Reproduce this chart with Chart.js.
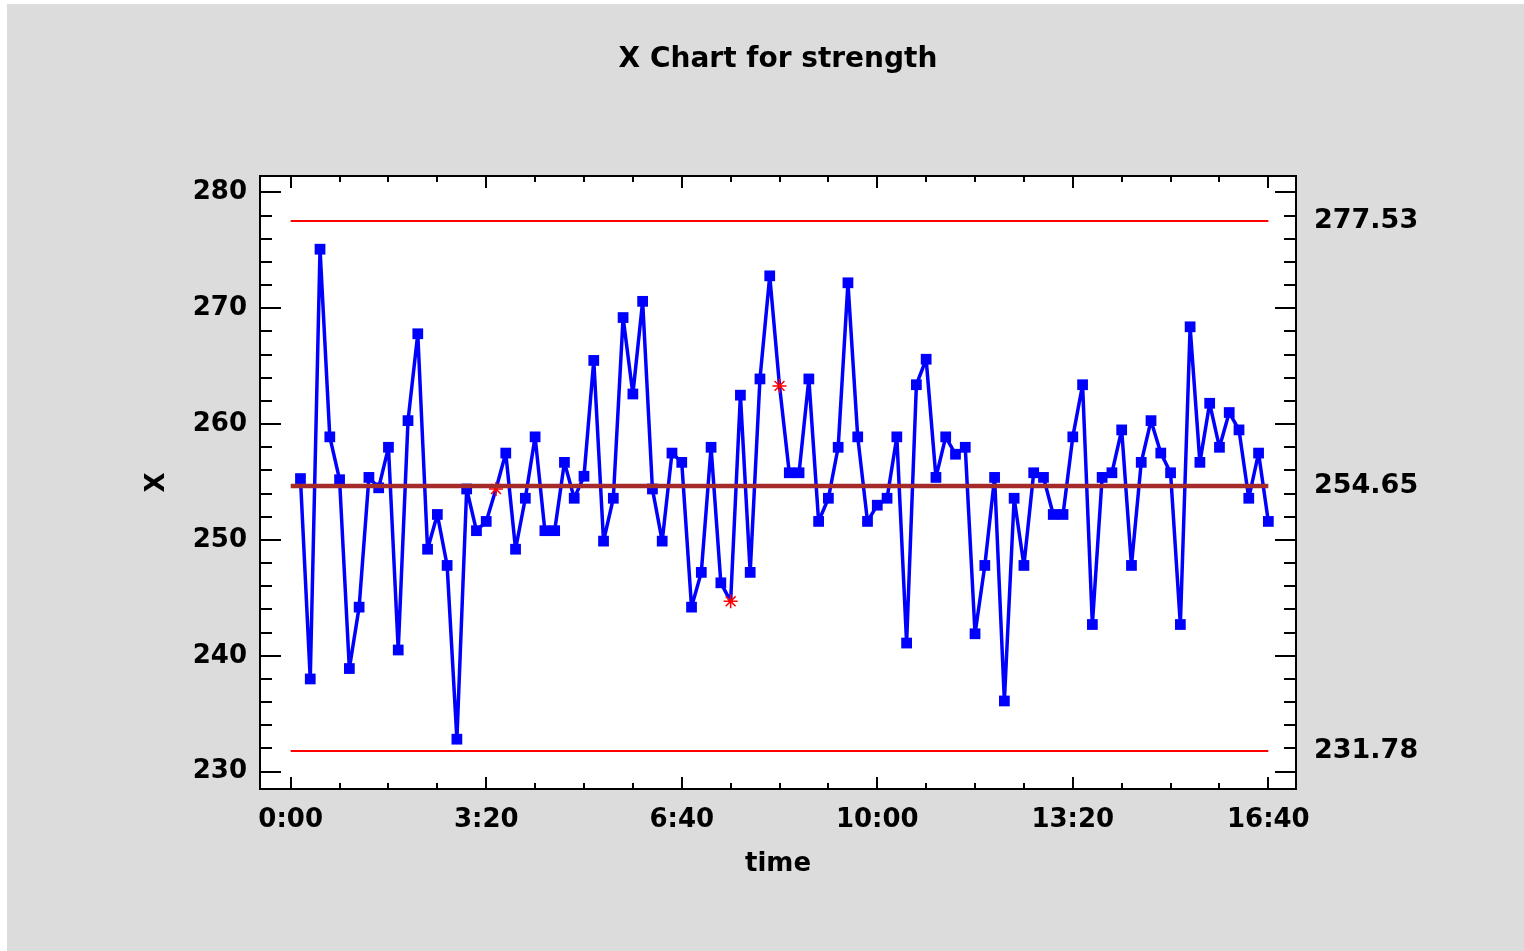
<!DOCTYPE html>
<html>
<head>
<meta charset="utf-8">
<title>X Chart for strength</title>
<script src="https://cdn.jsdelivr.net/npm/chart.js@4.4.1/dist/chart.umd.min.js"></script>
<style>
  html, body { margin: 0; padding: 0; background: #ffffff; }
  #frame { position: absolute; left: 7px; top: 4px; width: 1517px; height: 947px; background: #dcdcdc; }
  canvas { display: block; }
</style>
</head>
<body>
<div id="frame"><canvas id="xChart" width="1517" height="947"></canvas></div>
<script>
// X chart (individuals) for strength - one sample every 10 minutes

const sampleMinutes = [
  10, 20, 30, 40, 50, 60, 70, 80, 90, 100,
  110, 120, 130, 140, 150, 160, 170, 180, 190, 200,
  210, 220, 230, 240, 250, 260, 270, 280, 290, 300,
  310, 320, 330, 340, 350, 360, 370, 380, 390, 400,
  410, 420, 430, 440, 450, 460, 470, 480, 490, 500,
  510, 520, 530, 540, 550, 560, 570, 580, 590, 600,
  610, 620, 630, 640, 650, 660, 670, 680, 690, 700,
  710, 720, 730, 740, 750, 760, 770, 780, 790, 800,
  810, 820, 830, 840, 850, 860, 870, 880, 890, 900,
  910, 920, 930, 940, 950, 960, 970, 980, 990, 1000
];

const strength = [
  255.3, 238.0, 275.1, 258.9, 255.2, 238.9, 244.2, 255.4, 254.5, 258.0,
  240.5, 260.3, 267.8, 249.2, 252.2, 247.8, 232.8, 254.4, 250.8, 251.6,
  254.4, 257.5, 249.2, 253.6, 258.9, 250.8, 250.8, 256.7, 253.6, 255.5,
  265.5, 249.9, 253.6, 269.2, 262.6, 270.6, 254.4, 249.9, 257.5, 256.7,
  244.2, 247.2, 258.0, 246.3, 244.7, 262.5, 247.2, 263.9, 272.8, 263.3,
  255.8, 255.8, 263.9, 251.6, 253.6, 258.0, 272.2, 258.9, 251.6, 253.0,
  253.6, 258.9, 241.1, 263.4, 265.6, 255.4, 258.9, 257.4, 258.0, 241.9,
  247.8, 255.4, 236.1, 253.6, 247.8, 255.8, 255.4, 252.2, 252.2, 258.9,
  263.4, 242.7, 255.4, 255.8, 259.5, 247.8, 256.7, 260.3, 257.5, 255.8,
  242.7, 268.4, 256.7, 261.8, 258.0, 261.0, 259.5, 253.6, 257.5, 251.6
];

// samples drawn as a red asterisk instead of a square (1-based)
const flaggedSamples = [21, 45, 50];

// control limits
const ucl = 277.53;
const centerLine = 254.65;
const lcl = 231.78;
const limitSpan = [0, 1000];

const yTickValues = [230, 240, 250, 260, 270, 280];
const xTickMinutes = [0, 200, 400, 600, 800, 1000];
const limitTicks = [lcl, centerLine, ucl];

const FONT = "'DejaVu Sans', Verdana, sans-serif";

function formatClock(min) {
  const h = Math.floor(min / 60);
  const m = Math.round(min % 60);
  return h + ':' + String(m).padStart(2, '0');
}

const isFlagged = (i) => flaggedSamples.includes(i + 1);

// white plot area on the grey page
const plotBackground = {
  id: 'plotBackground',
  beforeDraw(chart) {
    const { ctx, chartArea: a } = chart;
    ctx.save();
    ctx.fillStyle = '#ffffff';
    ctx.fillRect(a.left, a.top, a.right - a.left, a.bottom - a.top);
    ctx.restore();
  }
};

// frame with inward tick marks on all four sides
const frameTicks = {
  id: 'frameTicks',
  afterDraw(chart) {
    const { ctx, chartArea: a, scales: { x, y } } = chart;
    ctx.save();
    ctx.strokeStyle = '#000000';
    ctx.lineWidth = 2;
    ctx.beginPath();
    for (let v = 230; v <= 280; v += 2) {
      const py = Math.round(y.getPixelForValue(v));
      const len = v % 10 === 0 ? 21 : 12;
      ctx.moveTo(a.left, py);
      ctx.lineTo(a.left + len, py);
      ctx.moveTo(a.right, py);
      ctx.lineTo(a.right - len, py);
    }
    for (let m = 0; m <= 1000; m += 50) {
      const px = Math.round(x.getPixelForValue(m));
      const len = m % 200 === 0 ? 12 : 6;
      ctx.moveTo(px, a.bottom);
      ctx.lineTo(px, a.bottom - len);
      ctx.moveTo(px, a.top);
      ctx.lineTo(px, a.top + len);
    }
    ctx.stroke();
    ctx.strokeRect(a.left, a.top, a.right - a.left, a.bottom - a.top);
    ctx.restore();
  }
};

const limitLine = (value) => limitSpan.map(m => ({ x: m, y: value }));
const labelFont = { family: FONT, size: 26, weight: 'bold' };

new Chart(document.getElementById('xChart'), {
  type: 'line',
  data: {
    datasets: [
      {
        label: 'CL',
        data: limitLine(centerLine),
        borderColor: '#a52a2a',
        borderWidth: 4.5,
        pointRadius: 0,
        order: 0
      },
      {
        label: 'strength',
        data: sampleMinutes.map((m, i) => ({ x: m, y: strength[i] })),
        borderColor: '#0000ff',
        borderWidth: 3.5,
        borderJoinStyle: 'round',
        tension: 0,
        order: 1,
        pointStyle: (c) => isFlagged(c.dataIndex) ? 'star' : 'rect',
        pointRadius: (c) => isFlagged(c.dataIndex) ? 7 : 7.6,
        pointBackgroundColor: '#0000ff',
        pointBorderColor: (c) => isFlagged(c.dataIndex) ? '#ff0000' : '#0000ff',
        pointBorderWidth: (c) => isFlagged(c.dataIndex) ? 1.5 : 0
      },
      {
        label: 'UCL',
        data: limitLine(ucl),
        borderColor: '#ff0000',
        borderWidth: 2,
        pointRadius: 0,
        order: 2
      },
      {
        label: 'LCL',
        data: limitLine(lcl),
        borderColor: '#ff0000',
        borderWidth: 2,
        pointRadius: 0,
        order: 2
      }
    ]
  },
  options: {
    responsive: false,
    animation: false,
    layout: { padding: 0 },
    plugins: {
      legend: { display: false },
      tooltip: { enabled: false },
      title: {
        display: true,
        fullSize: false,
        text: 'X Chart for strength',
        color: '#000000',
        font: { family: FONT, size: 28, weight: 'bold' },
        padding: { top: 39, bottom: 99.4 }
      }
    },
    scales: {
      x: {
        type: 'linear',
        position: 'bottom',
        min: -31.4,
        max: 1028.3,
        grid: { display: false, drawTicks: false },
        border: { display: false },
        afterBuildTicks: (s) => { s.ticks = xTickMinutes.map(v => ({ value: v })); },
        afterFit: (s) => { s.height = 162; },
        ticks: {
          color: '#000000',
          font: labelFont,
          padding: 16,
          maxRotation: 0,
          autoSkip: false,
          callback: (v) => formatClock(v)
        },
        title: {
          display: true,
          text: 'time',
          color: '#000000',
          font: labelFont,
          padding: { top: 0, bottom: 71 }
        }
      },
      y: {
        type: 'linear',
        position: 'left',
        min: 228.5,
        max: 281.42,
        grid: { display: false, drawTicks: false },
        border: { display: false },
        afterBuildTicks: (s) => { s.ticks = yTickValues.map(v => ({ value: v })); },
        afterFit: (s) => { s.width = 253; },
        ticks: { color: '#000000', font: labelFont, padding: 13 },
        title: {
          display: true,
          text: 'X',
          color: '#000000',
          font: labelFont,
          padding: { top: 134.4, bottom: 0 }
        }
      },
      y2: {
        type: 'linear',
        position: 'right',
        min: 228.5,
        max: 281.42,
        grid: { display: false, drawTicks: false },
        border: { display: false },
        afterBuildTicks: (s) => { s.ticks = limitTicks.map(v => ({ value: v })); },
        afterFit: (s) => { s.width = 228; },
        ticks: {
          color: '#000000',
          font: { family: FONT, size: 27, weight: 'bold' },
          padding: 18,
          callback: (v) => v.toFixed(2)
        }
      }
    }
  },
  plugins: [plotBackground, frameTicks]
});
</script>
</body>
</html>
